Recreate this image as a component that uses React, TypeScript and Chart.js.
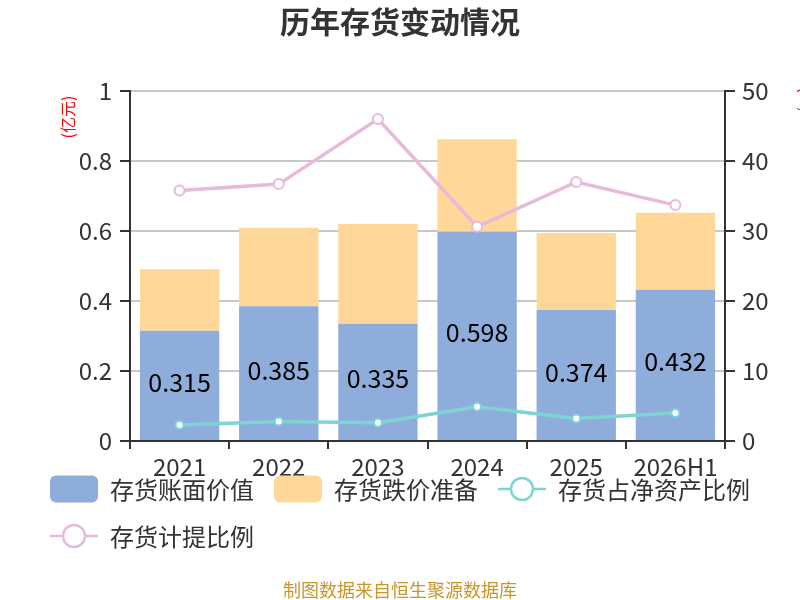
import { useEffect, useRef } from 'react';
import { Chart, registerables } from 'chart.js';

Chart.register(...registerables);

const FONT = "'Noto Sans CJK SC', 'Noto Sans', sans-serif";

const years = ['2021', '2022', '2023', '2024', '2025', '2026H1'];
// 亿元
const bookValue = [0.315, 0.385, 0.335, 0.598, 0.374, 0.432];
const impairment = [0.176, 0.224, 0.285, 0.264, 0.22, 0.22];
// %
const shareOfNetAssets = [2.3, 2.8, 2.6, 4.9, 3.2, 4.0];
const provisionRatio = [35.8, 36.7, 46.0, 30.6, 37.0, 33.7];

const seriesNames = ['存货账面价值', '存货跌价准备', '存货占净资产比例', '存货计提比例'];
const BLUE = '#8EADDB';
const ORANGE = '#FFD899';
const TEAL = '#7ED3D5';
const PINK = '#E6BADB';

// titles, unit labels, value labels and the legend
const overlay = {
  id: 'overlay',
  afterDraw(chart: Chart) {
    const { ctx } = chart;
    ctx.save();

    ctx.fillStyle = '#333';
    ctx.font = `bold 30px ${FONT}`;
    ctx.textAlign = 'center';
    ctx.textBaseline = 'middle';
    ctx.fillText('历年存货变动情况', 400, 22);

    ctx.fillStyle = '#C8962A';
    ctx.font = `18px ${FONT}`;
    ctx.fillText('制图数据来自恒生聚源数据库', 400, 590);

    // unit labels
    ctx.fillStyle = '#FF0000';
    ctx.font = `16px ${FONT}`;
    ctx.save();
    ctx.translate(68, 117);
    ctx.rotate(-Math.PI / 2);
    ctx.fillText('(亿元)', 0, 0);
    ctx.restore();
    ctx.save();
    ctx.translate(806, 100);
    ctx.rotate(Math.PI / 2);
    ctx.fillText('(%)', 0, 0);
    ctx.restore();

    // value labels on book value bars (dataset 2)
    const meta = chart.getDatasetMeta(2);
    ctx.fillStyle = '#000';
    ctx.font = `25px ${FONT}`;
    meta.data.forEach((el: any, i: number) => {
      const { x, y, base } = el.getProps(['x', 'y', 'base'], true);
      ctx.fillText(String(bookValue[i]), x, (y + base) / 2 - 3);
    });

    // legend
    ctx.font = `24px ${FONT}`;
    ctx.textAlign = 'left';
    const kinds = ['box', 'box', 'line', 'line'];
    const colors = [BLUE, ORANGE, TEAL, PINK];
    let x = 50;
    let y = 489;
    seriesNames.forEach((name, i) => {
      const w = 48 + 12 + ctx.measureText(name).width;
      if (x + w > 780) {
        x = 50;
        y += 47;
      }
      if (kinds[i] === 'box') {
        ctx.fillStyle = colors[i];
        ctx.beginPath();
        ctx.roundRect(x, y - 13.5, 48, 27, 6);
        ctx.fill();
      } else {
        ctx.strokeStyle = colors[i];
        ctx.lineWidth = 2.5;
        ctx.beginPath();
        ctx.moveTo(x, y);
        ctx.lineTo(x + 48, y);
        ctx.stroke();
        ctx.beginPath();
        ctx.arc(x + 24, y, 11, 0, Math.PI * 2);
        ctx.fillStyle = '#fff';
        ctx.fill();
        ctx.stroke();
      }
      ctx.fillStyle = '#333';
      ctx.fillText(name, x + 60, y + 1);
      x += w + 20;
    });

    ctx.restore();
  },
};

export default function App() {
  const canvasRef = useRef<HTMLCanvasElement | null>(null);
  const chartRef = useRef<Chart | null>(null);

  useEffect(() => {
    if (!canvasRef.current) return;
    if (chartRef.current) chartRef.current.destroy();

    const TICK = { color: '#333', font: { family: FONT, size: 24 } };

    chartRef.current = new Chart(canvasRef.current, {
      type: 'bar',
      data: {
        labels: years,
        datasets: [
          {
            type: 'line',
            label: seriesNames[2],
            data: shareOfNetAssets,
            yAxisID: 'y1',
            borderColor: TEAL,
            borderWidth: 3.5,
            pointRadius: 4,
            pointBorderWidth: 2,
            pointBackgroundColor: '#fff',
            pointBorderColor: TEAL,
            order: 0,
          },
          {
            type: 'line',
            label: seriesNames[3],
            data: provisionRatio,
            yAxisID: 'y1',
            borderColor: PINK,
            borderWidth: 3.5,
            pointRadius: 5,
            pointBorderWidth: 2,
            pointBackgroundColor: '#fff',
            pointBorderColor: PINK,
            order: 0,
          },
          {
            label: seriesNames[0],
            data: bookValue,
            backgroundColor: BLUE,
            stack: 'inv',
            barPercentage: 0.8,
            categoryPercentage: 1,
            order: 1,
          },
          {
            label: seriesNames[1],
            data: impairment,
            backgroundColor: ORANGE,
            stack: 'inv',
            barPercentage: 0.8,
            categoryPercentage: 1,
            order: 1,
          },
        ] as any,
      },
      options: {
        animation: false,
        responsive: true,
        maintainAspectRatio: false,
        layout: { padding: { top: 91, bottom: 119, left: 0, right: 0 } },
        scales: {
          x: {
            stacked: true,
            ticks: { ...TICK, padding: 3 },
            grid: {
              drawOnChartArea: false,
              drawTicks: true,
              tickLength: 8,
              color: '#333',
              lineWidth: 2,
              offset: true,
            },
            border: { color: '#333', width: 2 },
            afterFit: (s: any) => {
              s.height = 40;
            },
          },
          y: {
            stacked: true,
            min: 0,
            max: 1,
            ticks: { ...TICK, stepSize: 0.2, padding: 8, callback: (v: any) => String(Math.round(Number(v) * 10) / 10) },
            grid: { color: '#C8C8C8', lineWidth: 2, tickColor: '#333', tickLength: 10 },
            border: { color: '#333', width: 2 },
            afterFit: (s: any) => {
              s.width = 130;
            },
          },
          y1: {
            position: 'right',
            min: 0,
            max: 50,
            ticks: { ...TICK, stepSize: 10, padding: 7 },
            grid: { drawOnChartArea: false, color: '#333', tickLength: 10, lineWidth: 2 },
            border: { color: '#333', width: 2 },
            afterFit: (s: any) => {
              s.width = 75;
            },
          },
        },
        plugins: {
          legend: { display: false },
          tooltip: { enabled: false },
        },
      },
      plugins: [overlay],
    });

    return () => {
      if (chartRef.current) {
        chartRef.current.destroy();
        chartRef.current = null;
      }
    };
  }, []);

  return (
    <div style={{ position: 'absolute', left: 0, top: 0, width: '800px', height: '600px', background: '#fff' }}>
      <canvas ref={canvasRef} aria-label="历年存货变动情况" />
    </div>
  );
}
